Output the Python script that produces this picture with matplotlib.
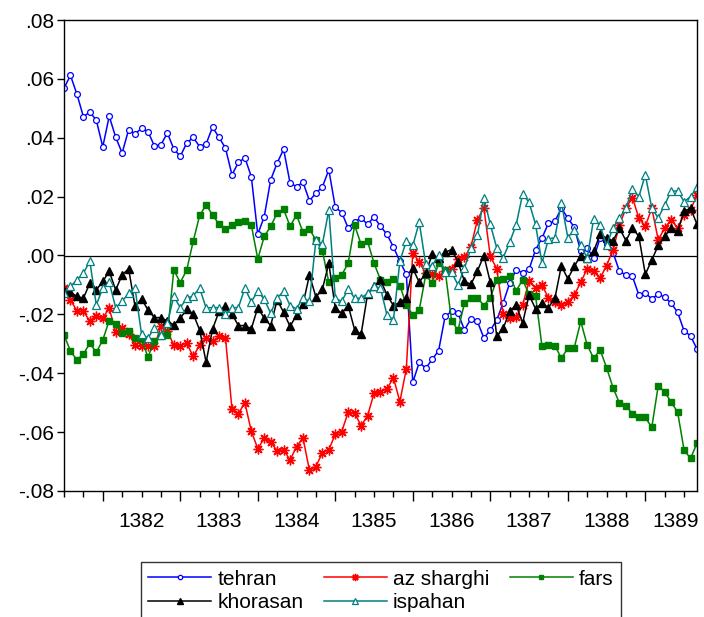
import numpy as np
import matplotlib
matplotlib.use("Agg")
import matplotlib.pyplot as plt
from matplotlib.ticker import FixedLocator, FuncFormatter

plt.rcParams['font.family'] = ['Liberation Sans', 'DejaVu Sans']

# monthly observations, 1381:07 .. 1389:09
start_year, start_month, n_obs = 1381, 7, 99
years = [1382, 1383, 1384, 1385, 1386, 1387, 1388, 1389]

tehran = [
    0.0568, 0.0612, 0.0548, 0.0472, 0.0487, 0.0460, 0.0369, 0.0473, 0.0402, 0.0348,
    0.0427, 0.0413, 0.0432, 0.0421, 0.0372, 0.0376, 0.0416, 0.0362, 0.0337, 0.0382,
    0.0401, 0.0370, 0.0379, 0.0436, 0.0401, 0.0365, 0.0274, 0.0316, 0.0332, 0.0268,
    0.0072, 0.0132, 0.0257, 0.0314, 0.0361, 0.0246, 0.0234, 0.0249, 0.0186, 0.0212,
    0.0233, 0.0291, 0.0164, 0.0146, 0.0093, 0.0115, 0.0127, 0.0106, 0.0131, 0.0099,
    0.0072, 0.0029, -0.0020, -0.0064, -0.0431, -0.0363, -0.0383, -0.0353, -0.0323, -0.0207,
    -0.0190, -0.0196, -0.0253, -0.0215, -0.0224, -0.0280, -0.0254, -0.0219, -0.0160, -0.0094,
    -0.0049, -0.0058, -0.0047, 0.0019, 0.0059, 0.0110, 0.0116, 0.0161, 0.0127, 0.0096,
    0.0014, 0.0027, -0.0010, 0.0060, 0.0040, 0.0010, -0.0054, -0.0066, -0.0071, -0.0134,
    -0.0128, -0.0147, -0.0131, -0.0142, -0.0162, -0.0193, -0.0256, -0.0273, -0.0318,
]

az_sharghi = [
    -0.0111, -0.0151, -0.0188, -0.0190, -0.0222, -0.0204, -0.0213, -0.0179, -0.0261, -0.0245,
    -0.0267, -0.0304, -0.0309, -0.0306, -0.0309, -0.0241, -0.0258, -0.0304, -0.0306, -0.0298,
    -0.0343, -0.0304, -0.0279, -0.0292, -0.0275, -0.0279, -0.0521, -0.0537, -0.0500, -0.0597,
    -0.0656, -0.0621, -0.0633, -0.0664, -0.0660, -0.0695, -0.0649, -0.0620, -0.0730, -0.0717,
    -0.0670, -0.0660, -0.0607, -0.0598, -0.0532, -0.0536, -0.0578, -0.0544, -0.0468, -0.0462,
    -0.0453, -0.0415, -0.0496, -0.0385, 0.0010, -0.0023, -0.0060, -0.0064, -0.0070, -0.0052,
    -0.0045, -0.0012, -0.0005, 0.0030, 0.0120, 0.0163, -0.0003, -0.0045, -0.0199, -0.0213,
    -0.0210, -0.0168, -0.0088, -0.0111, -0.0100, -0.0145, -0.0159, -0.0168, -0.0159, -0.0134,
    -0.0091, -0.0045, -0.0054, -0.0077, -0.0034, 0.0019, 0.0104, 0.0161, 0.0197, 0.0127,
    0.0099, 0.0161, 0.0053, 0.0093, 0.0121, 0.0093, 0.0138, 0.0155, 0.0206,
]

fars = [
    -0.0270, -0.0324, -0.0355, -0.0335, -0.0298, -0.0329, -0.0287, -0.0221, -0.0232, -0.0262,
    -0.0258, -0.0281, -0.0284, -0.0345, -0.0290, -0.0272, -0.0270, -0.0049, -0.0092, -0.0049,
    0.0048, 0.0136, 0.0172, 0.0138, 0.0106, 0.0090, 0.0102, 0.0113, 0.0116, 0.0104,
    -0.0012, 0.0065, 0.0099, 0.0144, 0.0157, 0.0099, 0.0138, 0.0079, 0.0090, 0.0052,
    0.0016, -0.0091, -0.0077, -0.0066, -0.0026, 0.0102, 0.0038, 0.0048, -0.0026, -0.0083,
    -0.0091, -0.0080, -0.0102, -0.0168, -0.0202, -0.0185, -0.0066, -0.0094, -0.0026, -0.0049,
    -0.0222, -0.0253, -0.0162, -0.0145, -0.0143, -0.0170, -0.0143, -0.0083, -0.0081, -0.0069,
    -0.0120, -0.0083, -0.0131, -0.0136, -0.0309, -0.0304, -0.0306, -0.0349, -0.0315, -0.0313,
    -0.0224, -0.0304, -0.0349, -0.0321, -0.0381, -0.0449, -0.0502, -0.0510, -0.0538, -0.0550,
    -0.0550, -0.0584, -0.0442, -0.0464, -0.0498, -0.0532, -0.0661, -0.0689, -0.0638,
]

khorasan = [
    -0.0122, -0.0125, -0.0139, -0.0145, -0.0094, -0.0117, -0.0088, -0.0054, -0.0117, -0.0066,
    -0.0045, -0.0173, -0.0147, -0.0185, -0.0211, -0.0211, -0.0222, -0.0236, -0.0213, -0.0183,
    -0.0198, -0.0253, -0.0362, -0.0250, -0.0190, -0.0170, -0.0199, -0.0238, -0.0238, -0.0249,
    -0.0177, -0.0213, -0.0238, -0.0151, -0.0193, -0.0241, -0.0202, -0.0166, -0.0066, -0.0141,
    -0.0115, -0.0026, -0.0179, -0.0196, -0.0170, -0.0253, -0.0267, -0.0131, -0.0105, -0.0083,
    -0.0134, -0.0170, -0.0159, -0.0143, -0.0044, -0.0091, -0.0060, 0.0004, -0.0010, 0.0011,
    0.0020, -0.0022, -0.0088, -0.0098, -0.0053, 0.0000, -0.0091, -0.0275, -0.0247, -0.0190,
    -0.0168, -0.0230, -0.0134, -0.0181, -0.0162, -0.0177, -0.0145, -0.0035, -0.0079, -0.0037,
    0.0000, -0.0009, 0.0014, 0.0072, 0.0059, 0.0050, 0.0093, 0.0050, 0.0093, 0.0065,
    -0.0064, -0.0015, 0.0034, 0.0065, 0.0093, 0.0082, 0.0150, 0.0161, 0.0106,
]

ispahan = [
    -0.0128, -0.0105, -0.0083, -0.0060, -0.0020, -0.0168, -0.0111, -0.0091, -0.0177, -0.0156,
    -0.0128, -0.0111, -0.0267, -0.0281, -0.0245, -0.0270, -0.0230, -0.0139, -0.0177, -0.0145,
    -0.0137, -0.0111, -0.0178, -0.0177, -0.0177, -0.0200, -0.0177, -0.0177, -0.0111, -0.0157,
    -0.0121, -0.0149, -0.0196, -0.0144, -0.0122, -0.0170, -0.0181, -0.0143, -0.0156, 0.0052,
    0.0038, 0.0155, -0.0145, -0.0156, -0.0113, -0.0145, -0.0145, -0.0128, -0.0105, -0.0111,
    -0.0202, -0.0219, -0.0020, 0.0050, 0.0034, 0.0113, -0.0030, -0.0035, 0.0002, -0.0057,
    -0.0057, -0.0100, -0.0043, 0.0025, 0.0068, 0.0195, 0.0106, 0.0025, -0.0007, 0.0045,
    0.0104, 0.0208, 0.0181, 0.0106, -0.0026, 0.0056, 0.0061, 0.0180, 0.0061, 0.0087,
    0.0036, -0.0009, 0.0124, 0.0102, 0.0034, 0.0095, 0.0127, 0.0161, 0.0226, 0.0200,
    0.0274, 0.0161, 0.0127, 0.0172, 0.0219, 0.0219, 0.0183, 0.0200, 0.0231,
]

# time axis in fractional years
t = start_year + (start_month - 1 + np.arange(n_obs)) / 12.0

fig = plt.figure(figsize=(7.04, 6.17), dpi=100)
ax = fig.add_axes([64 / 704, 126 / 617, 633 / 704, 471 / 617])

lw = 1.1
ax.axhline(0, color='black', lw=0.9, zorder=1)
ax.plot(t, tehran, color='#0000ff', lw=lw, marker='o', ms=4.2,
        mfc='white', mec='#0000ff', mew=0.9, label='tehran')
ax.plot(t, az_sharghi, color='#ff0000', lw=lw, marker=(8, 2, 0), ms=7,
        mec='#ff0000', mew=1.0, label='az sharghi')
ax.plot(t, fars, color='#008000', lw=lw, marker='s', ms=4.6,
        mfc='#008000', mec='#008000', label='fars')
ax.plot(t, khorasan, color='black', lw=lw, marker='^', ms=5.2,
        mfc='black', mec='black', label='khorasan')
ax.plot(t, ispahan, color='#008080', lw=lw, marker='^', ms=5.4,
        mfc='white', mec='#008080', mew=0.9, label='ispahan')

ax.set_xlim(t[0], t[-1])
ax.set_ylim(-0.08, 0.08)

ax.xaxis.set_major_locator(FixedLocator(years))
ax.xaxis.set_minor_locator(FixedLocator(np.arange(t[0], t[-1] + 0.01, 0.25)))
ax.set_xticklabels([])
ax.tick_params(axis='x', which='major', length=7, width=1, direction='out')
ax.tick_params(axis='x', which='minor', length=4, width=1, direction='out')
ax.set_yticks(np.arange(-0.08, 0.081, 0.02))
ax.yaxis.set_major_formatter(FuncFormatter(
    lambda v, p: ('-' if v < -1e-9 else '') + ('%.2f' % abs(v))[1:]))
ax.tick_params(axis='y', length=5, width=1, direction='out', labelsize=15, pad=2)
ax.tick_params(top=False, right=False)
for s in ax.spines.values():
    s.set_linewidth(1.0)

# year labels sit in the middle of each year span
for yr in years:
    xpos = yr + 0.5 if yr < years[-1] else t[-1] + 0.02
    ha = 'center' if yr < years[-1] else 'right'
    ax.text(xpos, -0.0905, str(yr), ha=ha, va='center', fontsize=15,
            transform=ax.transData)

order = ['tehran', 'khorasan', 'az sharghi', 'ispahan', 'fars']
handles, labels = ax.get_legend_handles_labels()
hmap = dict(zip(labels, handles))
leg = fig.legend([hmap[k] for k in order], order, ncol=3,
                 loc='upper center', bbox_to_anchor=(381 / 704, 1 - 552 / 617),
                 fontsize=15, frameon=True, fancybox=False, edgecolor='black',
                 handlelength=3.0, handletextpad=0.3, columnspacing=1.0,
                 labelspacing=0.2, borderpad=0.35, markerscale=0.75)
leg.get_frame().set_linewidth(1.0)

fig.savefig('out.png', dpi=100)
